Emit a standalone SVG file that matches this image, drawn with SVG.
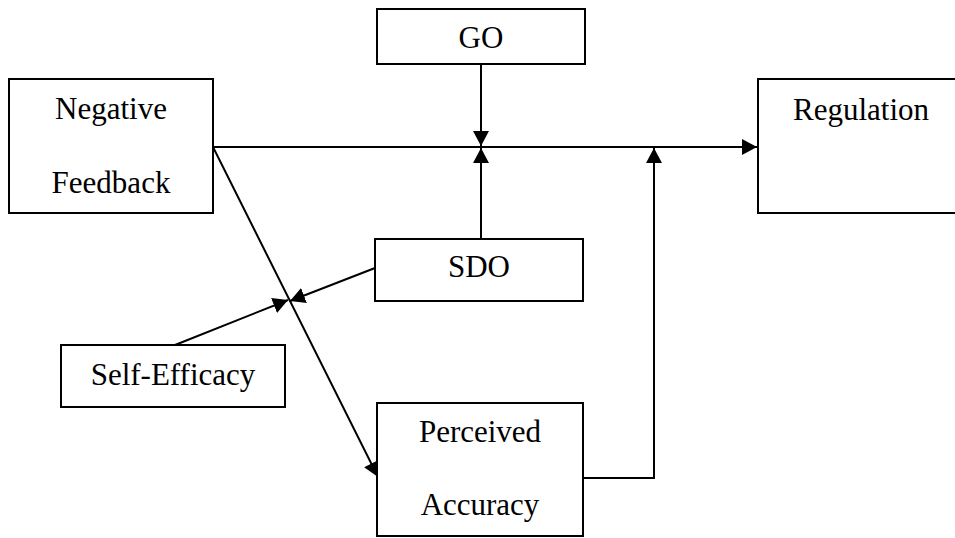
<svg xmlns="http://www.w3.org/2000/svg" width="955" height="538" viewBox="0 0 955 538">
<style>
.box{fill:#fff;stroke:#000;stroke-width:2}
.t{font-family:"Liberation Serif","Times New Roman",serif;font-size:31px;fill:#000;text-anchor:middle}
.c{fill:none;stroke:#000;stroke-width:2}
</style>
<defs>
<marker id="ah" markerUnits="userSpaceOnUse" markerWidth="16" markerHeight="16" refX="15" refY="8" orient="auto">
<path d="M0,0 L15,8 L0,16 Z" fill="#000"/>
</marker>
</defs>
<rect width="955" height="538" fill="#fff"/>
<g id="connectors">
<line class="c" x1="213" y1="147" x2="757" y2="147" marker-end="url(#ah)"/>
<line class="c" x1="481" y1="64" x2="481" y2="146" marker-end="url(#ah)"/>
<line class="c" x1="481" y1="239" x2="481" y2="148" marker-end="url(#ah)"/>
<polyline class="c" points="583,478 654,478 654,148" marker-end="url(#ah)"/>
<line class="c" x1="213" y1="147" x2="378" y2="477" marker-end="url(#ah)"/>
<line class="c" x1="375" y1="268" x2="290" y2="301" marker-end="url(#ah)"/>
<line class="c" x1="175" y1="345" x2="288" y2="300" marker-end="url(#ah)"/>
</g>
<g id="negative-feedback">
<rect class="box" x="9" y="79" width="204" height="134"/>
<text class="t" x="111" y="119">Negative</text>
<text class="t" x="111" y="193">Feedback</text>
</g>
<g id="go">
<rect class="box" x="377" y="9" width="208" height="55"/>
<text class="t" x="481" y="48">GO</text>
</g>
<g id="regulation">
<rect class="box" x="758" y="79" width="205" height="134"/>
<text class="t" x="861" y="120">Regulation</text>
</g>
<g id="sdo">
<rect class="box" x="375" y="239" width="208" height="62"/>
<text class="t" x="479" y="277">SDO</text>
</g>
<g id="self-efficacy">
<rect class="box" x="61" y="345" width="224" height="62"/>
<text class="t" x="173" y="385">Self-Efficacy</text>
</g>
<g id="perceived-accuracy">
<rect class="box" x="377" y="403" width="206" height="133"/>
<text class="t" x="480" y="442">Perceived</text>
<text class="t" x="480" y="515">Accuracy</text>
</g>
</svg>
